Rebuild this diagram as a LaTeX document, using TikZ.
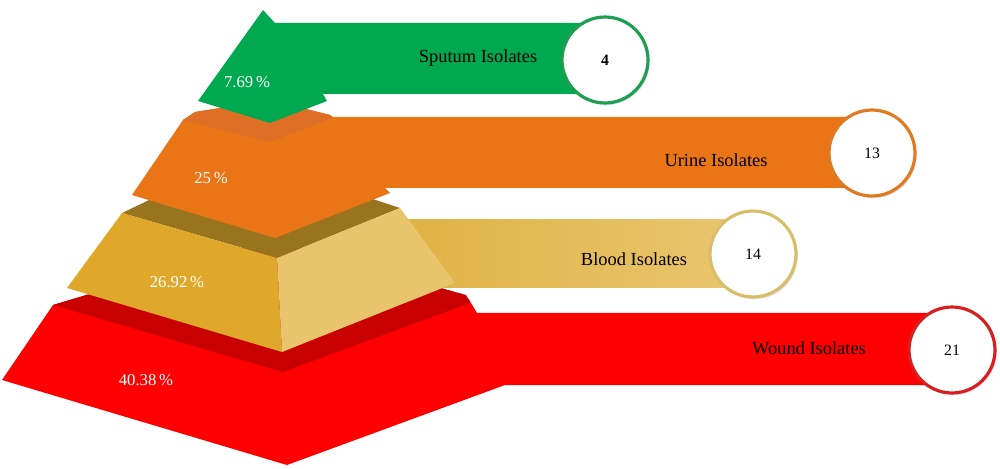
\documentclass[tikz,border=0pt]{standalone}
\usepackage{fontspec}
\setmainfont{Liberation Serif}
\usetikzlibrary{shadows}
\definecolor{grn}{HTML}{00A94F}
\definecolor{grnedge}{HTML}{1E9E50}
\definecolor{orng}{HTML}{E97516}
\definecolor{orngdk}{HTML}{DF6F24}
\definecolor{orngedge}{HTML}{E07A20}
\definecolor{goldl}{HTML}{E0A82A}
\definecolor{goldr}{HTML}{E8C46C}
\definecolor{goldtop}{HTML}{98741E}
\definecolor{goldbandl}{HTML}{E0B244}
\definecolor{goldbandr}{HTML}{E9C670}
\definecolor{goldedge}{HTML}{D9BE6A}
\definecolor{redc}{HTML}{FF0000}
\definecolor{reddk}{HTML}{C80000}
\definecolor{rededge}{HTML}{D81E1E}
\tikzset{
  bubble/.style={circle, fill=white, draw=#1, line width=1.8pt, minimum size=1.72cm, inner sep=0pt,
    font=\fontsize{9}{10}\selectfont,
    drop shadow={opacity=0.3, shadow xshift=1pt, shadow yshift=-1.2pt, fill=black!60!blue!40}},
  cat/.style={font=\fontsize{10.5}{12}\selectfont, text=black, inner sep=0pt},
  pct/.style={font=\fontsize{9.5}{11}\selectfont, text=white, inner sep=0pt},
}
\begin{document}
\begin{tikzpicture}[x=0.02cm,y=-0.02cm]
\useasboundingbox (0,0) rectangle (1000,469);
\fill[white] (0,0) rectangle (1000,469);

% ---------- red layer (Wound) ----------
\fill[redc] (53,305) -- (2,380) -- (287,465) -- (505,385) -- (952,385) -- (952,313)
  -- (477,313) -- (468,298) -- (270,240) -- cycle;
\fill[reddk] (53,305) -- (283,372) -- (470,303) -- (466,295) -- (270,240) -- cycle;

% ---------- gold layer (Blood) ----------
\shade[left color=goldbandl, right color=goldbandr] (400,220) rectangle (753,288);
\fill[goldtop] (122,213) -- (277,258) -- (400,208) -- (330,185) -- (170,190) -- cycle;
\fill[goldl] (122,213) -- (277,258) -- (282,352) -- (67,288) -- cycle;
\fill[goldr] (277,258) -- (400,208) -- (455,283) -- (282,352) -- cycle;

% ---------- orange layer (Urine) ----------
\fill[orng] (183,120) -- (195,112) -- (270,100) -- (330,115) -- (333,117) -- (872,117)
  -- (872,188) -- (385,188) -- (390,193) -- (275,238) -- (132,195) -- cycle;
\fill[orngdk] (183,120) -- (195,112) -- (270,100) -- (330,115) -- (333,118) -- (270,142) -- cycle;

% ---------- green arrow (Sputum) ----------
\fill[grn] (263,10) -- (275,23) -- (605,23) -- (605,94) -- (323,94) -- (327,101)
  -- (270,123) -- (198,101) -- cycle;

% ---------- bubbles ----------
\node[bubble=grnedge]  (n4)  at (605,60)  {\bfseries 4};
\node[bubble=orngedge] (n13) at (872,153) {13};
\node[bubble=goldedge] (n14) at (753,254) {14};
\node[bubble=rededge]  (n21) at (952,350) {21};

% ---------- labels ----------
\node[cat] (ls) at (478,58)  {Sputum Isolates};
\node[cat] (lu) at (716,160) {Urine Isolates};
\node[cat] (lb) at (634,259) {Blood Isolates};
\node[cat] (lw) at (809,348) {Wound Isolates};

\node[pct] (ps) at (247,82)  {7.69\,\%};
\node[pct] (pu) at (211,178) {25\,\%};
\node[pct] (pb) at (177,282) {26.92\,\%};
\node[pct] (pw) at (146,380) {40.38\,\%};
\end{tikzpicture}
\end{document}
